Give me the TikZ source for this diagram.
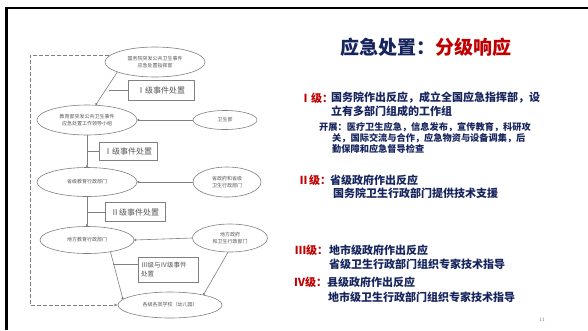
\documentclass[tikz,border=0pt]{standalone}
\usepackage{fontspec}
\setmainfont{Liberation Serif}
\newfontfamily\cjk{Noto Sans CJK SC}
\usetikzlibrary{shapes.geometric,arrows.meta}
\definecolor{navy}{HTML}{17255E}
\definecolor{hred}{HTML}{C00000}
\definecolor{lgray}{HTML}{808080}
\definecolor{tgray}{HTML}{555555}
\begin{document}
\begin{tikzpicture}[x=1pt,y=-1pt,
  evt/.style={draw=lgray, line width=0.6pt, ellipse, inner sep=0pt, align=center,
    text=tgray, font=\cjk\fontsize{5}{7.5}\selectfont},
  lvlbox/.style={draw=lgray, line width=0.6pt, rectangle, inner sep=0pt, align=left,
    text=tgray, font=\cjk\fontsize{8}{11}\selectfont},
  con/.style={draw=lgray, line width=0.6pt, -{Circle[length=2.2pt]}},
  plain/.style={draw=lgray, line width=0.6pt},
  dsh/.style={draw=lgray, line width=0.7pt, dash pattern=on 4pt off 2pt, -{Stealth[length=4pt]}},
  txt/.style={anchor=west, inner sep=0pt, text=navy, font=\cjk\bfseries\fontsize{11}{13}\selectfont},
  stxt/.style={anchor=west, inner sep=0pt, text=navy, font=\cjk\bfseries\fontsize{9.2}{11}\selectfont}]
\useasboundingbox (0,0) rectangle (588,330);
\fill[white] (0,0) rectangle (588,330);
% slide frame
\draw[black, line width=2.2pt] (5,8) -- (588,8);
\draw[black, line width=2.2pt] (6.5,7) -- (6.5,330);

% nodes of the flow chart
\node[evt, minimum width=100pt, minimum height=30pt] (t) at (155,62) {国务院突发公共卫生事件\\应急处置指挥部};
\node[evt, minimum width=100pt, minimum height=30pt] (e2) at (87,120) {教育部突发公共卫生事件\\应急处置工作领导小组};
\node[evt, minimum width=64pt, minimum height=19pt] (w1) at (225,120) {卫生部};
\node[evt, minimum width=100pt, minimum height=29pt] (e3) at (87,182) {省级教育行政部门};
\node[evt, minimum width=68pt, minimum height=30pt] (w2) at (227,182) {省政府和省级\\卫生行政部门};
\node[evt, minimum width=94pt, minimum height=27pt] (e4) at (87,240) {地方教育行政部门};
\node[evt, minimum width=75pt, minimum height=28pt] (w3) at (230,238) {地方政府\\和卫生行政部门};
\node[evt, minimum width=104pt, minimum height=26pt] (s) at (170,305) {各级各类学校（幼儿园）};

\node[lvlbox, minimum width=66pt, minimum height=20pt] (b1) at (161,90) {Ⅰ级事件处置};
\node[lvlbox, minimum width=58pt, minimum height=18pt] (b2) at (128,151) {Ⅰ级事件处置};
\node[lvlbox, minimum width=60pt, minimum height=19pt] (b3) at (135,212) {Ⅱ级事件处置};
\node[lvlbox, minimum width=60pt, minimum height=25pt, text width=54pt,
  font=\cjk\fontsize{6.5}{9}\selectfont] (b4) at (168,270) {Ⅲ级与Ⅳ级事件\\处置};

% connectors
\draw[con] (t.195) -- (e2.60);
\draw[plain] (b1.west) -- ++(-18.5,0);
\draw[con] (w1.west) -- (e2.east);
\draw[con] (e2.south) -- (e3.north);
\draw[plain] (b2.west) -- (b2.west -| e2.south);
\draw[con] (w2.west) -- (e3.east);
\draw[con] (e3.south) -- (e4.north);
\draw[plain] (b3.west) -- (b3.west -| e3.south);
\draw[con] (w3.west) -- (e4.east);
\draw[con] (e4.333) -- (s.173);
\draw[plain] (b4.170) -- ++(-25,0);
\draw[con] (w3.262) -- (s.17);
\coordinate (dl) at (30,0);
\draw[dsh] (t.172) -- (t.172 -| dl) -- (dl |- s.west) -- (s.west);

% right-hand text
\node[anchor=west, inner sep=0pt, font=\cjk\bfseries\fontsize{19}{21}\selectfont] (title) at (340,47)
  {\textcolor{navy}{应急处置：}\textcolor{hred}{分级响应}};

\node[txt, text=hred] (l1) at (300,98) {Ⅰ级：};
\node[txt] (l1a) at (331,98) {国务院作出反应，成立全国应急指挥部，设};
\node[txt] (l1b) at (331,111) {立有多部门组成的工作组};
\node[stxt] (k1) at (319,127) {开展：医疗卫生应急，信息发布，宣传教育，科研攻};
\node[stxt] (k2) at (332,138) {关，国际交流与合作，应急物资与设备调集，后};
\node[stxt] (k3) at (332,149) {勤保障和应急督导检查};

\node[txt, text=hred] (l2) at (298,180) {Ⅱ级：};
\node[txt] (l2a) at (330,180) {省级政府作出反应};
\node[txt] (l2b) at (333,193) {国务院卫生行政部门提供技术支援};

\node[txt, text=hred] (l3) at (295,250) {Ⅲ级：};
\node[txt] (l3a) at (329,250) {地市级政府作出反应};
\node[txt] (l3b) at (329,264) {省级卫生行政部门组织专家技术指导};

\node[txt, text=hred] (l4) at (294,282) {Ⅳ级：};
\node[txt] (l4a) at (327,282) {县级政府作出反应};
\node[txt] (l4b) at (328,297) {地市级卫生行政部门组织专家技术指导};

\node[anchor=center, inner sep=0pt, text=lgray, font=\sffamily\fontsize{5}{6}\selectfont] (pg) at (542,320) {11};
\end{tikzpicture}
\end{document}
